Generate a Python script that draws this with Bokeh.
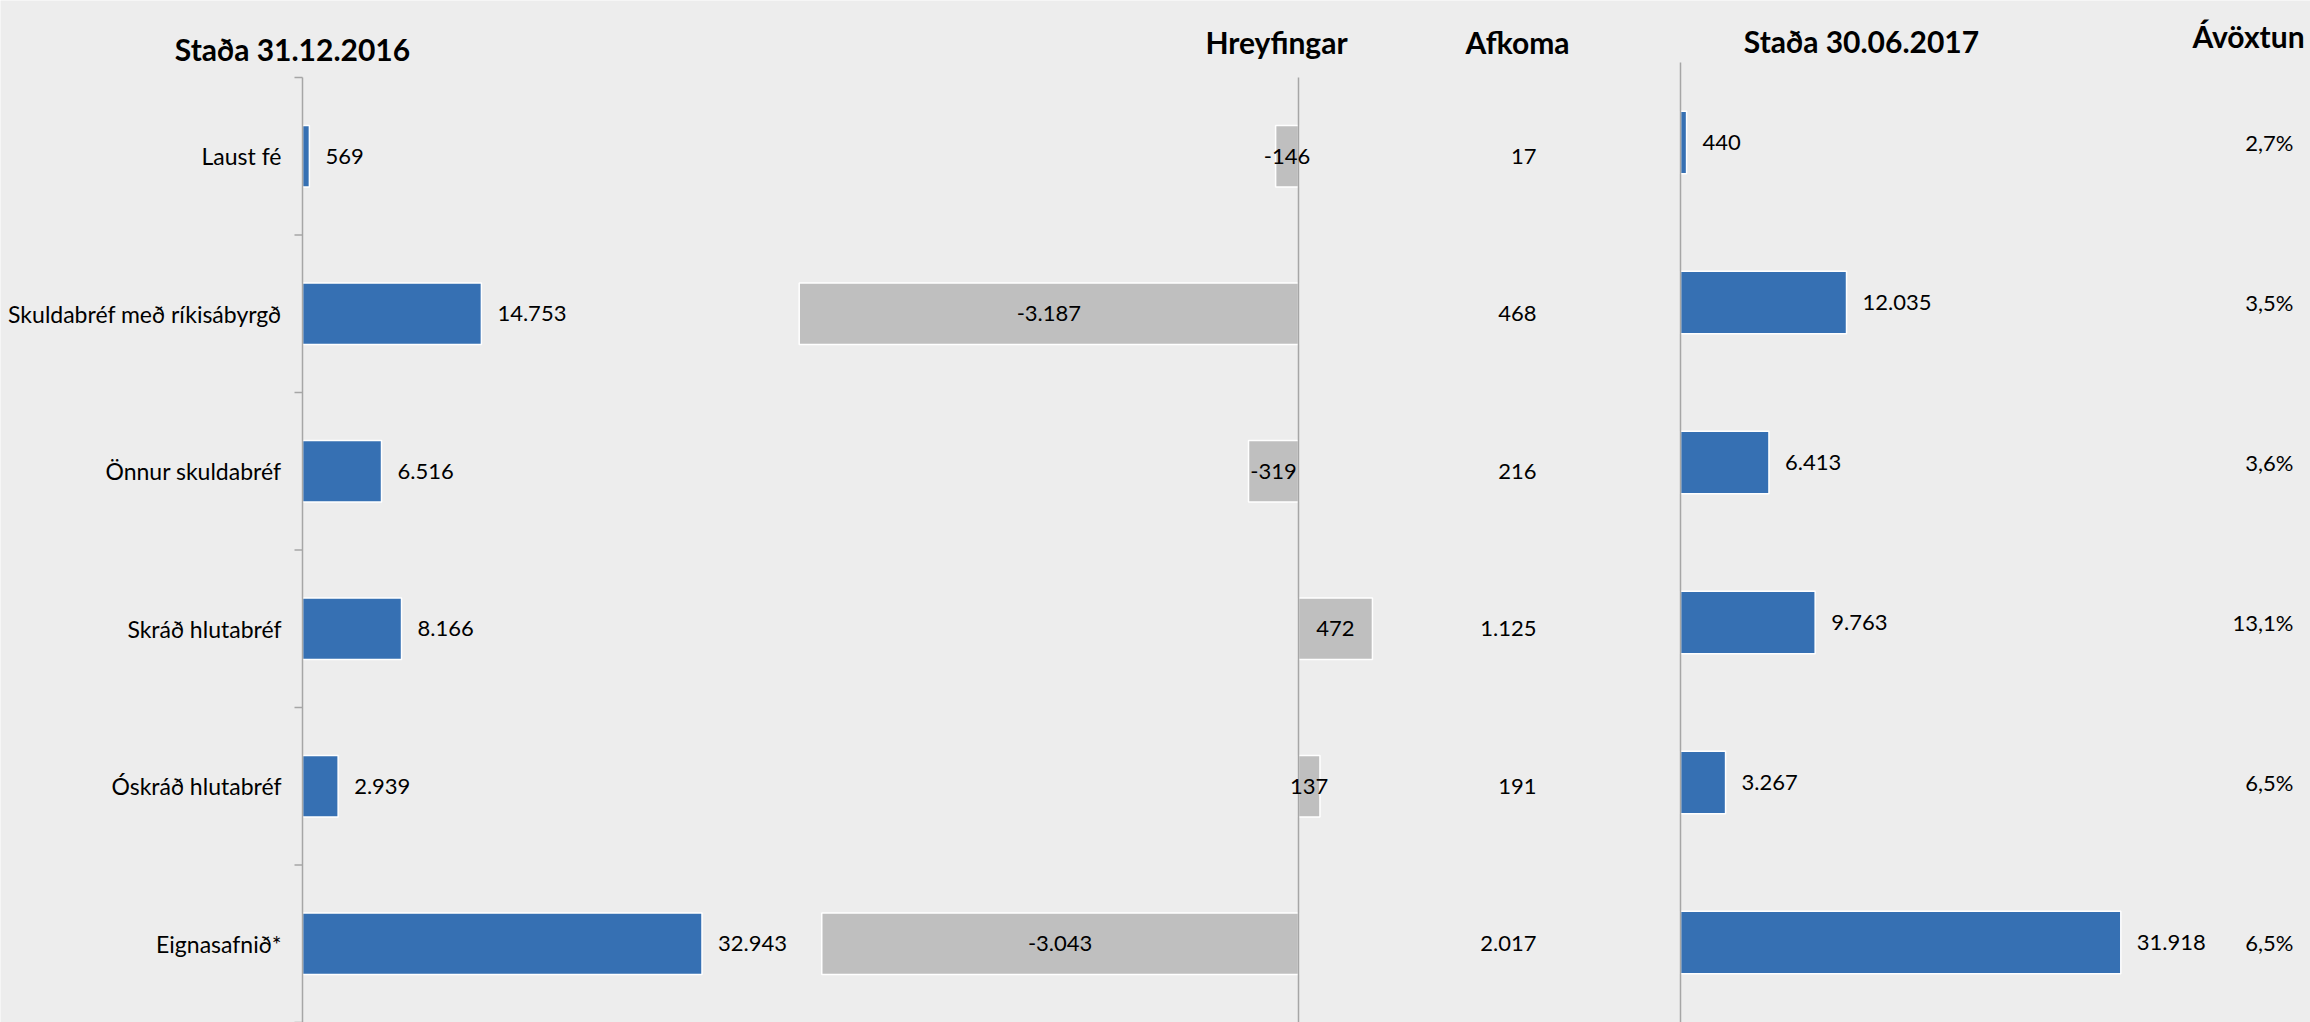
import math
from bokeh.plotting import figure
from bokeh.models import Range1d, ColumnDataSource
from bokeh.core.properties import value
from bokeh.embed import file_html
from bokeh.resources import INLINE

# ---------------- data ----------------
categories = ["Laust fé", "Skuldabréf með ríkisábyrgð", "Önnur skuldabréf",
              "Skráð hlutabréf", "Óskráð hlutabréf", "Eignasafnið*"]
stada_2016 = [569, 14753, 6516, 8166, 2939, 32943]
hreyfingar = [-146, -3187, -319, 472, 137, -3043]
afkoma = [17, 468, 216, 1125, 191, 2017]
stada_2017 = [440, 12035, 6413, 9763, 3267, 31918]
avoxtun = [2.7, 3.5, 3.6, 13.1, 6.5, 6.5]
headers = ["Staða 31.12.2016", "Hreyfingar", "Afkoma", "Staða 30.06.2017", "Ávöxtun"]

# ---------------- style / layout ----------------
BG = "#EDEDED"
BLUE = "#3670B3"
GRAY = "#BFBFBF"
AXC = "#A6A6A6"
FONT = "Lato"
FS = "22px"
CAT_FS = "23px"
TFS = "30px"

W, H = 2310, 1022
FL, FR = 0, W
FT, FB = 0, H


def fmt_int(v):
    return f"{v:,}".replace(",", ".")


def fmt_pct(v):
    return f"{v:.1f}%".replace(".", ",")


def xrange_for(zero_px, px_per_unit):
    return Range1d(start=(FL - zero_px) / px_per_unit, end=(FR - zero_px) / px_per_unit)


def yrange_for(top_px, band_px):
    return Range1d(start=(FB - top_px) / band_px - 0.5, end=(FT - top_px) / band_px - 0.5)


n = len(categories)
idx = list(range(n))

src = ColumnDataSource(dict(
    y=idx, cat=categories,
    s16=stada_2016, s16_lbl=[fmt_int(v) for v in stada_2016],
    hr=hreyfingar, hr_mid=[v / 2 for v in hreyfingar], hr_lbl=[fmt_int(v) for v in hreyfingar],
    af_lbl=[fmt_int(v) for v in afkoma],
    s17=stada_2017, s17_lbl=[fmt_int(v) for v in stada_2017],
    av_lbl=[fmt_pct(v) for v in avoxtun],
))
bounds_src = ColumnDataSource(dict(y=[i - 0.5 for i in range(n + 1)]))

p = figure(width=W, height=H, output_backend="svg", toolbar_location=None,
           x_range=xrange_for(302, 0.012127), y_range=yrange_for(77, 157.5),
           x_axis_location=None, y_axis_location=None,
           min_border_left=0, min_border_right=0, min_border_top=0, min_border_bottom=0,
           background_fill_color=BG, border_fill_color=BG, outline_line_color=None)
p.grid.visible = False

p.extra_x_ranges = {
    "mid": xrange_for(1298, 0.15667),
    "right": xrange_for(1680, 0.013795),
    "px": Range1d(start=FL, end=FR),
}
p.extra_y_ranges = {
    "righty": yrange_for(62, 160.0),
    "py": Range1d(start=FB, end=FT),
}

# bars
p.hbar(y="y", left=0, right="s16", height=0.39, fill_color=BLUE, line_color="white",
       line_width=1.5, source=src)
p.hbar(y="y", left=0, right="hr", height=0.39, fill_color=GRAY, line_color="white",
       line_width=1.5, x_range_name="mid", source=src)
p.hbar(y="y", left=0, right="s17", height=0.39, fill_color=BLUE, line_color="white",
       line_width=1.5, x_range_name="right", y_range_name="righty", source=src)

# axis lines
p.segment(x0=0, y0=-0.5, x1=0, y1=n - 0.5, line_color=AXC, line_width=1.5)
p.ray(x=0, y="y", length=8, length_units="screen", angle=math.pi,
      line_color=AXC, line_width=1.5, source=bounds_src)
p.segment(x0=0, y0=-0.5, x1=0, y1=n - 0.5, x_range_name="mid",
          line_color=AXC, line_width=1.5)
p.segment(x0=0, y0=-0.5, x1=0, y1=n - 0.5, x_range_name="right", y_range_name="righty",
          line_color=AXC, line_width=1.5)

txt = dict(text_font=value(FONT), text_font_size=FS, text_color="black",
           text_baseline="middle", source=src)
p.text(x=0, y="y", text="cat", x_offset=-21, text_align="right",
       **{**txt, "text_font_size": CAT_FS})
p.text(x="s16", y="y", text="s16_lbl", x_offset=16, text_align="left", **txt)
p.text(x="hr_mid", y="y", text="hr_lbl", text_align="center", x_range_name="mid", **txt)
p.text(x=1536, y="y", text="af_lbl", text_align="right", x_range_name="px", **txt)
p.text(x="s17", y="y", text="s17_lbl", x_offset=16, text_align="left",
       x_range_name="right", y_range_name="righty", **txt)
p.text(x=2293, y="y", text="av_lbl", text_align="right", x_range_name="px",
       y_range_name="righty", **txt)

# headers
hdr_src = ColumnDataSource(dict(
    x=[292, 1276, 1517, 1861, 2248],
    y=[48, 41, 41, 40, 35],
    text=headers,
))
p.text(x="x", y="y", text="text", source=hdr_src, x_range_name="px", y_range_name="py",
       text_align="center", text_baseline="alphabetic", text_font=value(FONT),
       text_font_style="bold", text_font_size=TFS, text_color="black")

open("out.html", "w").write(file_html(p, INLINE))
